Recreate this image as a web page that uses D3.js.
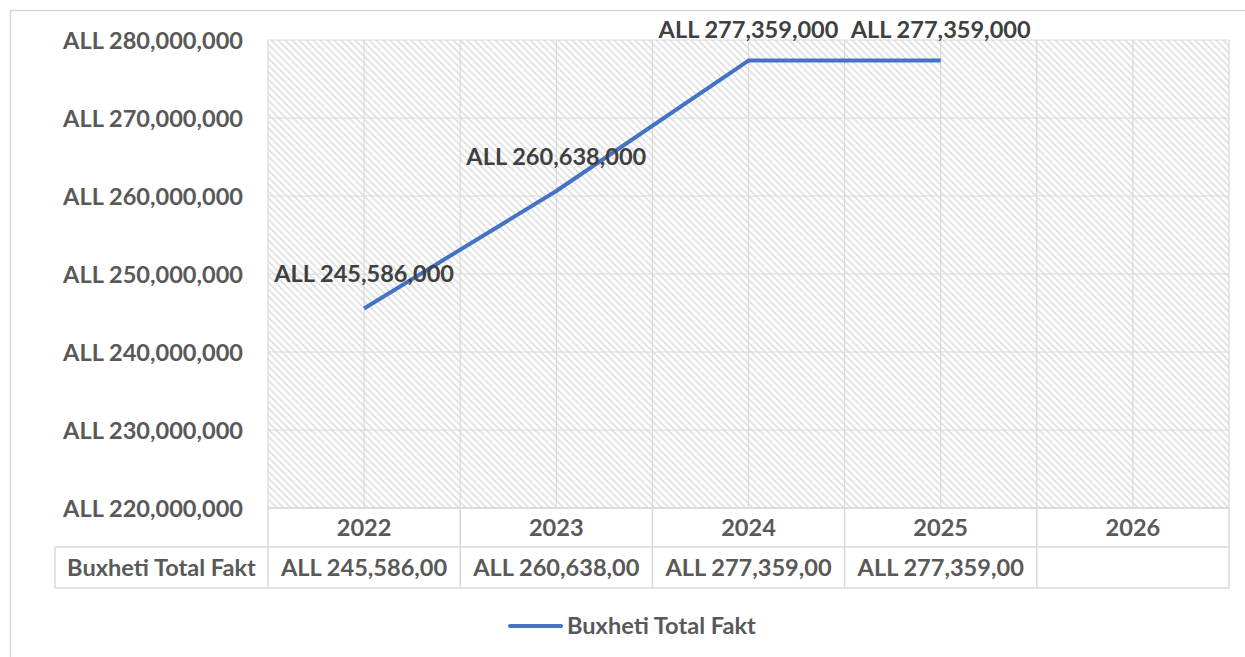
<!DOCTYPE html>
<html><head><meta charset="utf-8">
<script src="https://cdn.jsdelivr.net/npm/d3@7/dist/d3.min.js"></script>
<style>body{margin:0;background:#fff;} svg{display:block;}</style>
</head><body>
<svg id="c" width="1245" height="657"></svg>
<script>
const years = ["2022","2023","2024","2025","2026"];
const values = [245586000, 260638000, 277359000, 277359000, null];
const tableValues = ["ALL 245,586,00","ALL 260,638,00","ALL 277,359,00","ALL 277,359,00",""];
const yTicks = [220000000,230000000,240000000,250000000,260000000,270000000,280000000];
const seriesName = "Buxheti Total Fakt";

const svg = d3.select("#c");
const FONT = "Lato, 'Open Sans', sans-serif";
const grid = "#d9d9d9";

// fit font size to reference text width
const probe = svg.append("text").attr("font-family",FONT).attr("font-weight","bold").attr("font-size",20).text("ALL 280,000,000");
const fs = 20 * 180 / probe.node().getComputedTextLength();
probe.remove();

const L=268, R=1229, T=40, B=508;
const x = d3.scaleBand().domain(years).range([L,R]).padding(0);
const y = d3.scaleLinear().domain([220000000,280000000]).range([B,T]);

// outer border
svg.append("rect").attr("x",10.5).attr("y",10.5).attr("width",1300).attr("height",700)
  .attr("fill","none").attr("stroke",grid).attr("stroke-width",1.5);

// hatch pattern
const P = 7;
const defs = svg.append("defs");
const pat = defs.append("pattern").attr("id","hatch").attr("patternUnits","userSpaceOnUse")
  .attr("width",P).attr("height",P);
pat.append("rect").attr("width",P).attr("height",P).attr("fill","#fff");
pat.append("path").attr("d",`M-1,-1 L${P+1},${P+1} M${-P/2-1},${P/2-1} L${P/2+1},${P*1.5+1} M${P/2-1},${-P/2-1} L${P*1.5+1},${P/2+1}`)
  .attr("stroke","#e0e0e0").attr("stroke-width",1.6);
svg.append("rect").attr("x",L).attr("y",T).attr("width",R-L).attr("height",B-T).attr("fill","url(#hatch)");

// horizontal gridlines
svg.append("g").selectAll("line").data(yTicks).join("line")
  .attr("x1",L).attr("x2",R).attr("y1",d=>y(d)).attr("y2",d=>y(d))
  .attr("stroke",grid).attr("stroke-width",1.2);
// vertical gridlines at boundaries and centres
const vx = [];
years.forEach(d=>{vx.push(x(d)); vx.push(x(d)+x.bandwidth()/2);});
vx.push(R);
svg.append("g").selectAll("line").data(vx).join("line")
  .attr("x1",d=>d).attr("x2",d=>d).attr("y1",T).attr("y2",B)
  .attr("stroke",grid).attr("stroke-width",1.2);

// y axis labels
const yAxis = d3.axisLeft(y).tickValues(yTicks).tickSize(0).tickPadding(0)
  .tickFormat(d=>"ALL "+d3.format(",")(d));
const ga = svg.append("g").attr("transform",`translate(243,0)`).call(yAxis);
ga.select(".domain").remove();
ga.selectAll("text").attr("font-family",FONT).attr("font-weight","bold").attr("font-size",fs)
  .attr("fill","#595959").attr("dy","0.34em");

// line
const pts = years.map((d,i)=>({year:d,v:values[i]})).filter(d=>d.v!=null);
const line = d3.line().x(d=>x(d.year)+x.bandwidth()/2).y(d=>y(d.v));
svg.append("path").datum(pts).attr("d",line).attr("fill","none")
  .attr("stroke","#4472C4").attr("stroke-width",4).attr("stroke-linejoin","round");

// data labels
svg.append("g").selectAll("text").data(pts).join("text")
  .attr("x",d=>x(d.year)+x.bandwidth()/2)
  .attr("y",d=>Math.max(y(d.v)-26,38))
  .attr("text-anchor","middle").attr("font-family",FONT).attr("font-weight","bold")
  .attr("font-size",fs).attr("fill","#404040")
  .text(d=>"ALL "+d3.format(",")(d.v));

// data table
const r1=508, r2=547, r3=588, tl=55;
const tg = svg.append("g");
tg.append("line").attr("x1",L).attr("x2",R).attr("y1",r1).attr("y2",r1).attr("stroke",grid).attr("stroke-width",1.5);
tg.append("line").attr("x1",tl).attr("x2",R).attr("y1",r2).attr("y2",r2).attr("stroke",grid).attr("stroke-width",1.5);
tg.append("line").attr("x1",tl).attr("x2",R).attr("y1",r3).attr("y2",r3).attr("stroke",grid).attr("stroke-width",1.5);
tg.append("line").attr("x1",tl).attr("x2",tl).attr("y1",r2).attr("y2",r3).attr("stroke",grid).attr("stroke-width",1.5);
const bx = years.map(d=>x(d)).concat([R]);
tg.selectAll("line.v").data(bx).join("line").attr("class","v")
  .attr("x1",d=>d).attr("x2",d=>d).attr("y1",r1).attr("y2",r3).attr("stroke",grid).attr("stroke-width",1.5);
tg.selectAll("text.yr").data(years).join("text").attr("class","yr")
  .attr("x",d=>x(d)+x.bandwidth()/2).attr("y",(r1+r2)/2).attr("dy","0.36em")
  .attr("text-anchor","middle").attr("font-family",FONT).attr("font-weight","bold")
  .attr("font-size",fs).attr("fill","#595959").text(d=>d);
tg.selectAll("text.val").data(years).join("text").attr("class","val")
  .attr("x",d=>x(d)+x.bandwidth()/2).attr("y",(r2+r3)/2).attr("dy","0.36em")
  .attr("text-anchor","middle").attr("font-family",FONT).attr("font-weight","bold")
  .attr("font-size",fs).attr("fill","#595959").text((d,i)=>tableValues[i]);
tg.append("text").attr("x",(tl+L)/2).attr("y",(r2+r3)/2).attr("dy","0.36em")
  .attr("text-anchor","middle").attr("font-family",FONT).attr("font-weight","bold")
  .attr("font-size",fs).attr("fill","#595959").text(seriesName);

// legend
const lg = svg.append("g");
lg.append("line").attr("x1",510).attr("x2",561).attr("y1",626).attr("y2",626)
  .attr("stroke","#4472C4").attr("stroke-width",4).attr("stroke-linecap","round");
lg.append("text").attr("x",567).attr("y",626).attr("dy","0.36em")
  .attr("font-family",FONT).attr("font-weight","bold").attr("font-size",fs)
  .attr("fill","#595959").text(seriesName);
</script>
</body></html>
